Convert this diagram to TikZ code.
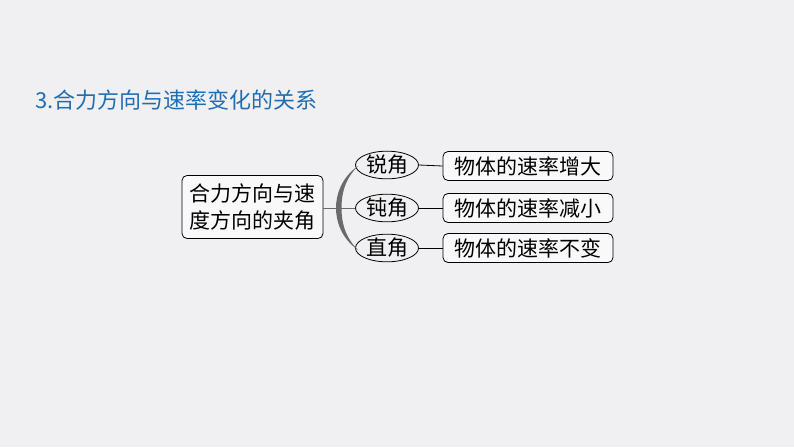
\documentclass[tikz,border=0pt]{standalone}
\usepackage{fontspec}
\setmainfont{Liberation Sans}
\newfontfamily\cjk{Noto Sans CJK SC}
\usetikzlibrary{shapes.geometric}
\definecolor{bgc}{HTML}{F0F0F2}
\definecolor{titleblue}{HTML}{1F6DB4}
\definecolor{bracegray}{HTML}{6A6A6A}
\tikzset{
  box/.style={draw=black, line width=0.8pt, rounded corners=5pt, fill=white!60!bgc, inner sep=2pt, align=center, font=\cjk\fontsize{21}{27}\selectfont},
  oval/.style={ellipse, draw=black, line width=0.8pt, minimum width=63pt, minimum height=22pt, inner sep=0pt, font=\cjk\fontsize{21}{22}\selectfont},
  link/.style={draw=black, line width=0.8pt}
}
\begin{document}
\begin{tikzpicture}[x=1pt,y=1pt]
\fill[bgc] (0,0) rectangle (794,-447);
\useasboundingbox (0,0) rectangle (794,-447);
\node[anchor=west, text=titleblue, font=\cjk\fontsize{22}{24}\selectfont, inner sep=0pt] (title) at (35,-100) {3.合力方向与速率变化的关系};
\node[box, minimum width=141pt, minimum height=63pt] (main) at (252.5,-207) {合力方向与速\\度方向的夹角};
\node[oval] (a1) at (387,-165) {锐角};
\node[oval] (a2) at (387,-208) {钝角};
\node[oval] (a3) at (387,-248) {直角};
\node[box, minimum width=170pt, minimum height=29pt] (r1) at (528,-166) {物体的速率增大};
\node[box, minimum width=170pt, minimum height=29pt] (r2) at (528,-208) {物体的速率减小};
\node[box, minimum width=170pt, minimum height=29pt] (r3) at (528,-248) {物体的速率不变};
\fill[bracegray] (358,-166) .. controls (341,-178) and (336,-195) .. (336,-208)
  .. controls (336,-221) and (341,-238) .. (358,-250)
  .. controls (344,-236) and (341.5,-221) .. (341.5,-208)
  .. controls (341.5,-195) and (344,-180) .. (358,-166) -- cycle;
\draw[link, bracegray, line width=1pt] (main.east |- a2.west) -- (a2.west);
\draw[link] (a1.east) -- (r1.west);
\draw[link] (a2.east) -- (r2.west);
\draw[link] (a3.east) -- (r3.west);
\end{tikzpicture}
\end{document}
